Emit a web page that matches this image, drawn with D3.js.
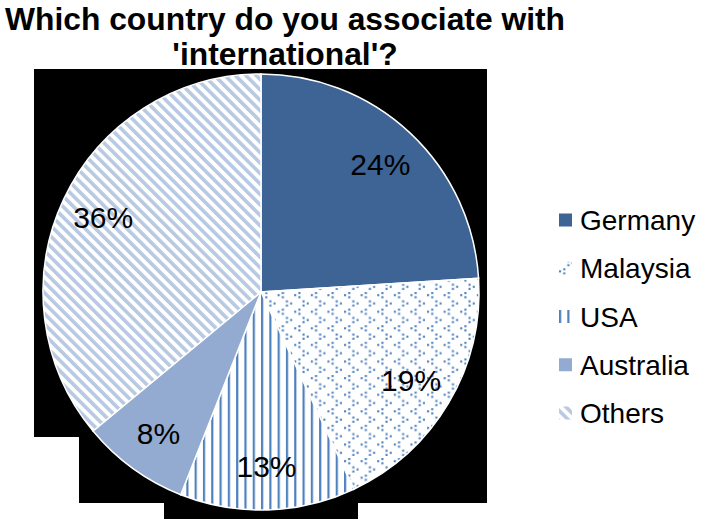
<!DOCTYPE html>
<html>
<head>
<meta charset="utf-8">
<script src="https://cdn.jsdelivr.net/npm/d3@7"></script>
<style>
  html, body { margin: 0; padding: 0; background: #fff; }
  svg { display: block; }
  text { font-family: "Liberation Sans", Arial, sans-serif; }
</style>
</head>
<body>
<svg id="chart" width="703" height="519"></svg>
<script>
// Survey answers: which country people associate with "international"
const categories = ["Germany", "Malaysia", "USA", "Australia", "Others"];
const shares = [24, 19, 13, 8, 36];
const titleLines = ["Which country do you associate with", "'international'?"];

const svg = d3.select("#chart");
const W = 703, H = 519;
svg.append("rect").attr("width", W).attr("height", H).attr("fill", "#fff");

// ---- fill patterns ----
const defs = svg.append("defs");
const blue = "#4f81bd";

// Malaysia: small "<" / ">" divots
const dv = 16.6, px = 2.1;
const divot = defs.append("pattern").attr("id", "pat-divot")
  .attr("patternUnits", "userSpaceOnUse").attr("width", dv).attr("height", dv);
divot.append("rect").attr("width", dv).attr("height", dv).attr("fill", "#fff");
const glyphs = [
  // "<" glyph
  [[2 * px, 0], [0, px], [2 * px, 2 * px]],
  // ">" glyph, offset half a tile
  [[dv / 2, dv / 2], [dv / 2 + 2 * px, dv / 2 + px], [dv / 2, dv / 2 + 2 * px]]
];
glyphs.forEach(g => g.forEach(([x, y]) => {
  divot.append("rect").attr("x", x).attr("y", y)
    .attr("width", px).attr("height", px).attr("fill", blue);
}));

// USA: narrow vertical lines
const vp = 8.3;
const vert = defs.append("pattern").attr("id", "pat-vert")
  .attr("patternUnits", "userSpaceOnUse").attr("width", vp).attr("height", vp);
vert.append("rect").attr("width", vp).attr("height", vp).attr("fill", "#fff");
vert.append("rect").attr("x", 0).attr("width", 2.2).attr("height", vp).attr("fill", blue);

// Others: wide downward diagonal stripes
const dp = 7.4;
const diag = defs.append("pattern").attr("id", "pat-diag")
  .attr("patternUnits", "userSpaceOnUse").attr("width", dp).attr("height", dp)
  .attr("patternTransform", "rotate(-45)");
diag.append("rect").attr("width", dp).attr("height", dp).attr("fill", "#fff");
diag.append("rect").attr("width", 3.6).attr("height", dp).attr("fill", "#b8c9e2");

const fills = ["#3d6494", "url(#pat-divot)", "url(#pat-vert)", "#94abd1", "url(#pat-diag)"];
const color = d3.scaleOrdinal().domain(categories).range(fills);

// ---- title ----
const title = svg.append("text")
  .attr("x", 285).attr("text-anchor", "middle")
  .attr("font-size", 31.8).attr("font-weight", "bold").attr("fill", "#000");
titleLines.forEach((t, i) => {
  title.append("tspan").attr("x", 285).attr("y", 30 + i * 35).text(t);
});

// ---- dark plot backdrop ----
const backdrop = d3.path();
backdrop.moveTo(34, 69);
backdrop.lineTo(487, 69);
backdrop.lineTo(487, 503);
backdrop.lineTo(358, 503);
backdrop.lineTo(358, 519);
backdrop.lineTo(164, 519);
backdrop.lineTo(164, 503);
backdrop.lineTo(79, 503);
backdrop.lineTo(79, 437);
backdrop.lineTo(34, 437);
backdrop.closePath();
svg.append("path").attr("d", backdrop.toString()).attr("fill", "#000");

// ---- pie ----
const cx = 261, cy = 292, r = 218;
const data = categories.map((c, i) => ({ name: c, value: shares[i] }));
const pie = d3.pie().value(d => d.value).sort(null);
const arcs = pie(data);
const arc = d3.arc().innerRadius(0).outerRadius(r);
const labelArc = d3.arc().innerRadius(r * 0.8).outerRadius(r * 0.8);

const g = svg.append("g").attr("transform", `translate(${cx},${cy})`);
g.selectAll("path.slice").data(arcs).join("path")
  .attr("class", "slice")
  .attr("d", arc)
  .attr("fill", d => color(d.data.name))
  .attr("stroke", "#fff").attr("stroke-width", 1.5);

const total = d3.sum(shares);
g.selectAll("text.pct").data(arcs).join("text")
  .attr("class", "pct")
  .attr("transform", d => `translate(${labelArc.centroid(d)})`)
  .attr("text-anchor", "middle").attr("dy", "0.35em")
  .attr("font-size", 30).attr("fill", "#000")
  .text(d => d3.format(".0%")(d.data.value / total));

// ---- legend ----
const legendY = d3.scalePoint().domain(categories).range([220, 413]);
const leg = svg.append("g").selectAll("g").data(categories).join("g")
  .attr("transform", d => `translate(559,${legendY(d)})`);
leg.append("rect").attr("x", 0).attr("y", -6.5).attr("width", 13).attr("height", 13)
  .attr("fill", d => color(d));
leg.append("text").attr("x", 21).attr("dy", "0.36em")
  .attr("font-size", 28).attr("fill", "#000").text(d => d);
</script>
</body>
</html>
